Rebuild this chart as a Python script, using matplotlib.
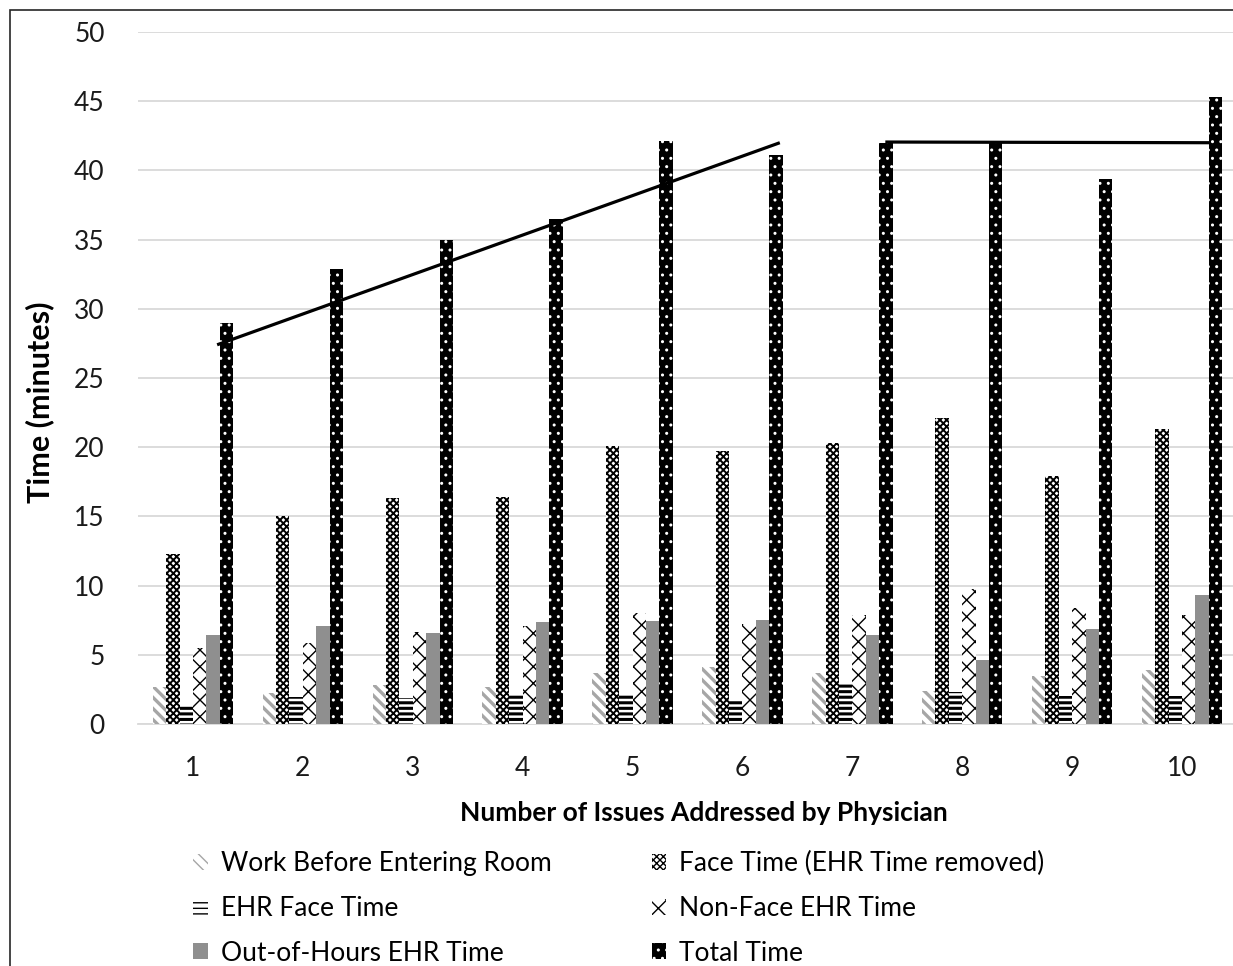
import numpy as np
import matplotlib
matplotlib.use('Agg')
import matplotlib.pyplot as plt
from matplotlib.patches import Rectangle

plt.rcParams['font.family'] = ['Lato', 'DejaVu Sans']

# data
issues = [1, 2, 3, 4, 5, 6, 7, 8, 9, 10]
work_before = [2.65, 2.25, 2.8, 2.7, 3.65, 4.15, 3.7, 2.4, 3.5, 3.9]
face_time = [12.3, 15.0, 16.3, 16.4, 20.1, 19.7, 20.3, 22.1, 17.9, 21.3]
ehr_face = [1.4, 1.95, 1.9, 2.1, 2.2, 1.65, 2.95, 2.3, 2.05, 2.05]
non_face_ehr = [5.5, 5.85, 6.65, 7.1, 8.05, 7.2, 7.85, 9.75, 8.35, 7.85]
out_of_hours = [6.45, 7.1, 6.6, 7.4, 7.45, 7.55, 6.45, 4.65, 6.85, 9.35]
total_time = [29.0, 32.9, 35.0, 36.5, 42.1, 41.1, 42.0, 42.0, 39.4, 45.3]

# hand-drawn trend segments
trend1_x = [1.22, 6.34]
trend1_y = [27.4, 42.0]
trend2_x = [7.30, 10.25]
trend2_y = [42.05, 42.0]

series = [
    ('Work Before Entering Room', work_before, dict(facecolor='white', edgecolor='#a6a6a6', hatch='\\\\\\', hlw=2.4)),
    ('Face Time (EHR Time removed)', face_time, dict(facecolor='white', edgecolor='black', hatch='xxxxx', hlw=1.4)),
    ('EHR Face Time', ehr_face, dict(facecolor='white', edgecolor='black', hatch='---', hlw=2.2)),
    ('Non-Face EHR Time', non_face_ehr, dict(facecolor='white', edgecolor='black', hatch='xx', hlw=1.0)),
    ('Out-of-Hours EHR Time', out_of_hours, dict(facecolor='#8f8f8f', edgecolor='#8f8f8f', hatch=None, hlw=1.0)),
    ('Total Time', total_time, dict(facecolor='black', edgecolor='white', hatch='..', hlw=1.0)),
]

fig = plt.figure(figsize=(12.33, 9.66), dpi=100)
ax = fig.add_axes([138 / 1233, 1 - 724 / 966, 1099 / 1233, 692 / 966])

x = np.array(issues, dtype=float)
width = 0.122
handles = {}
for i, (name, vals, st) in enumerate(series):
    offs = (i - 2.5) * width
    with plt.rc_context({'hatch.linewidth': st['hlw']}):
        bars = ax.bar(x + offs, vals, width, facecolor=st['facecolor'], edgecolor=st['edgecolor'],
                      hatch=st['hatch'], linewidth=0, zorder=3)
    for p in bars:
        if hasattr(p, 'set_hatch_linewidth'):
            p.set_hatch_linewidth(st['hlw'])
    handles[name] = bars

ax.plot(trend1_x, trend1_y, color='black', lw=2.3, zorder=4, solid_capstyle='butt')
ax.plot(trend2_x, trend2_y, color='black', lw=2.3, zorder=4, solid_capstyle='butt')

ax.set_xlim(0.5, 10.5)
ax.set_ylim(0, 50)
ax.set_yticks(range(0, 51, 5))
ax.set_xticks(issues)
ax.grid(axis='y', color='#d9d9d9', lw=1.3, zorder=0)
ax.set_axisbelow(True)
for s in ['top', 'right', 'left']:
    ax.spines[s].set_visible(False)
ax.spines['bottom'].set_color('#d9d9d9')
ax.spines['bottom'].set_linewidth(1.3)
ax.tick_params(length=0, labelsize=19, colors='#1a1a1a')
ax.tick_params(axis='y', pad=24)
ax.tick_params(axis='x', pad=23)

fig.text(704 / 1233, 1 - 813 / 966, 'Number of Issues Addressed by Physician',
         ha='center', va='center', fontsize=19, fontweight='bold')
fig.text(40 / 1233, 1 - 402 / 966, 'Time (minutes)', ha='center', va='center',
         rotation=90, fontsize=22, fontweight='bold')

order = ['Work Before Entering Room', 'EHR Face Time', 'Out-of-Hours EHR Time',
         'Face Time (EHR Time removed)', 'Non-Face EHR Time', 'Total Time']
fig.legend([handles[n] for n in order], order, ncol=2, frameon=False,
           loc='upper left', bbox_to_anchor=(193 / 1233, 1 - 851 / 966),
           fontsize=19, handlelength=0.55, handleheight=0.55, handletextpad=0.5,
           columnspacing=3.8, labelspacing=0.75, borderpad=0, borderaxespad=0)

fig.patches.append(Rectangle((10 / 1233, -0.1), 2, 1.1 - 10 / 966, transform=fig.transFigure,
                             fill=False, edgecolor='#262626', lw=1.2))

fig.savefig('out.png', dpi=100)
